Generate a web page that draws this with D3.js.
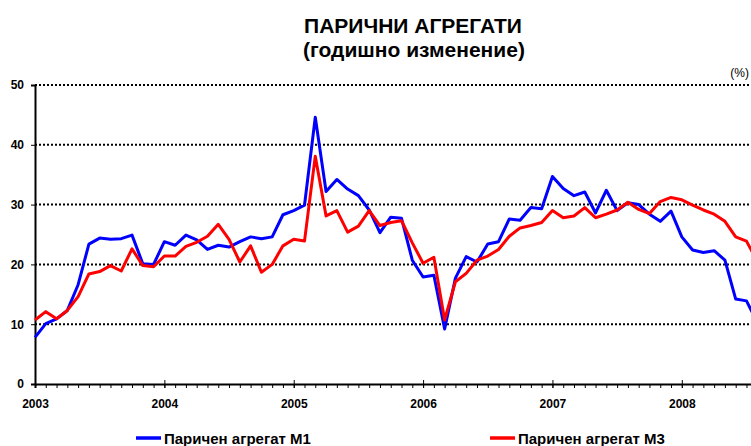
<!DOCTYPE html>
<html>
<head>
<meta charset="utf-8">
<script src="https://cdnjs.cloudflare.com/ajax/libs/d3/7.8.5/d3.min.js"></script>
<style>
  body { margin: 0; background: #fff; }
  svg { display: block; font-family: "Liberation Sans", Arial, sans-serif; }
</style>
</head>
<body>
<svg id="chart"></svg>
<script>
// monthly data, Jan 2003 - Aug 2008
var years = ["2003", "2004", "2005", "2006", "2007", "2008"];
var yTicks = [0, 10, 20, 30, 40, 50];
var seriesNames = ["Паричен агрегат М1", "Паричен агрегат М3"];
var seriesColors = ["#0000ff", "#ff0000"];

var m1 = [7.8, 10.1, 10.9, 12.3, 16.6, 23.4, 24.4, 24.2, 24.3, 24.9, 20.1, 20.0,
          23.8, 23.2, 24.9, 24.1, 22.5, 23.2, 22.9, 23.8, 24.6, 24.3, 24.6, 28.3,
          29.0, 29.9, 44.6, 32.2, 34.2, 32.6, 31.5, 29.1, 25.3, 27.9, 27.7, 20.7,
          17.9, 18.2, 9.2, 17.7, 21.3, 20.4, 23.4, 23.8, 27.6, 27.4, 29.5, 29.3,
          34.7, 32.7, 31.5, 32.1, 28.6, 32.4, 29.0, 30.3, 30.0, 28.4, 27.2, 28.9,
          24.6, 22.4, 22.0, 22.3, 20.7, 14.2, 13.9, 10.3];
var m3 = [10.7, 12.1, 10.9, 12.3, 14.6, 18.4, 18.8, 19.8, 18.9, 22.6, 19.8, 19.6,
          21.4, 21.4, 23.0, 23.7, 24.7, 26.7, 24.2, 20.4, 23.1, 18.7, 20.0, 23.1,
          24.2, 23.9, 38.1, 28.1, 29.0, 25.4, 26.4, 29.0, 26.5, 27.0, 27.3, 23.6,
          20.2, 21.2, 10.7, 17.1, 18.5, 20.7, 21.4, 22.5, 24.7, 26.1, 26.5, 27.0,
          29.0, 27.8, 28.1, 29.5, 27.8, 28.4, 29.1, 30.4, 29.2, 28.5, 30.5, 31.2,
          30.8, 29.9, 29.1, 28.4, 27.2, 24.6, 23.9, 20.5];

var width = 751, height = 446;
var margin = {left: 35, top: 85, bottom: 62};
var monthStep = 10.78;

var svg = d3.select("#chart").attr("width", width).attr("height", height);

var x = d3.scaleLinear()
    .domain([0, m1.length - 1])
    .range([margin.left, margin.left + (m1.length - 1) * monthStep]);
var y = d3.scaleLinear()
    .domain([0, 50])
    .range([height - margin.bottom, margin.top]);

// title
svg.append("text")
    .attr("x", 413).attr("y", 33)
    .attr("text-anchor", "middle")
    .style("font-size", "21px").style("font-weight", "bold")
    .text("ПАРИЧНИ АГРЕГАТИ");
svg.append("text")
    .attr("x", 414).attr("y", 57)
    .attr("text-anchor", "middle")
    .style("font-size", "21px").style("font-weight", "bold")
    .text("(годишно изменение)");
svg.append("text")
    .attr("x", 749).attr("y", 77)
    .attr("text-anchor", "end")
    .style("font-size", "12px")
    .text("(%)");

// dotted gridlines
svg.append("g")
  .selectAll("line")
  .data(yTicks.filter(function(d) { return d > 0; }))
  .join("line")
    .attr("x1", margin.left).attr("x2", width)
    .attr("y1", function(d) { return y(d); })
    .attr("y2", function(d) { return y(d); })
    .attr("stroke", "#000")
    .attr("stroke-width", 2)
    .attr("stroke-dasharray", "2,2");

// y axis
var yAxis = svg.append("g")
    .attr("transform", "translate(" + margin.left + ",0)")
    .call(d3.axisLeft(y).tickValues(yTicks).tickSize(4).tickPadding(7));
yAxis.select(".domain").attr("stroke-width", 2);
yAxis.selectAll("text")
    .style("font-size", "12px").style("font-weight", "bold")
    .attr("fill", "#000");

// x axis: monthly minor ticks
var xAxis = svg.append("g")
    .attr("transform", "translate(0," + y(0) + ")")
    .call(d3.axisBottom(x).tickValues(d3.range(0, 72)).tickSize(4).tickFormat(""));
xAxis.select(".domain").attr("stroke-width", 2);

// year ticks and labels
var yearAxis = svg.append("g")
    .attr("transform", "translate(0," + y(0) + ")")
    .call(d3.axisBottom(x)
        .tickValues(years.map(function(d, i) { return i * 12; }))
        .tickSizeInner(-4).tickSizeOuter(0).tickPadding(15)
        .tickFormat(function(d, i) { return years[i]; }));
yearAxis.select(".domain").remove();
yearAxis.selectAll("text")
    .style("font-size", "12px").style("font-weight", "bold")
    .attr("fill", "#000");
yearAxis.selectAll(".tick line").attr("y2", 4).attr("y1", -4);

// lines
var line = d3.line()
    .x(function(d, i) { return x(i); })
    .y(function(d) { return y(d); });

[m1, m3].forEach(function(s, k) {
  svg.append("path")
      .datum(s)
      .attr("fill", "none")
      .attr("stroke", seriesColors[k])
      .attr("stroke-width", 3)
      .attr("stroke-linejoin", "round")
      .attr("d", line);
});

// legend
var legendX = [136, 490];
var legend = svg.append("g")
  .selectAll("g")
  .data(seriesNames)
  .join("g")
    .attr("transform", function(d, i) { return "translate(" + legendX[i] + ",438)"; });
legend.append("line")
    .attr("x1", 0).attr("x2", 25)
    .attr("stroke", function(d, i) { return seriesColors[i]; })
    .attr("stroke-width", 3.5);
legend.append("text")
    .attr("x", 28).attr("y", 6)
    .style("font-size", "15px").style("font-weight", "bold")
    .text(function(d) { return d; });
</script>
</body>
</html>
